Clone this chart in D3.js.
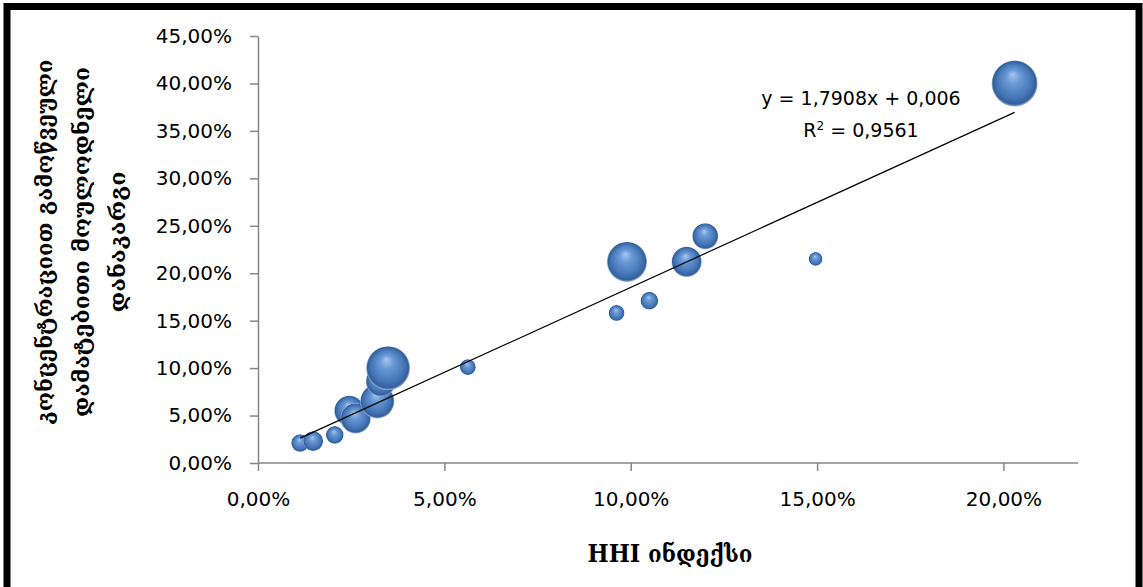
<!DOCTYPE html>
<html lang="ka">
<head>
<meta charset="utf-8">
<style>
  body { margin: 0; background: #fff; }
  svg { display: block; }
  .tick text { font-family: "DejaVu Sans", sans-serif; font-size: 20px; fill: #000; }
  .axis path, .axis line { stroke: #868686; stroke-width: 1.5; }
</style>
</head>
<body>
<script src="https://d3js.org/d3.v7.min.js"></script>
<script>
  var width = 1143, height = 587;

  // HHI index (share) and additional unexpected loss (share), bubble size
  var hhi  = [0.0113, 0.0148, 0.0206, 0.0245, 0.0262, 0.0320, 0.0330, 0.0349, 0.0563, 0.0962, 0.0990, 0.1050, 0.1150, 0.1200, 0.1496, 0.2030];
  var loss = [0.021, 0.023, 0.0295, 0.055, 0.047, 0.065, 0.086, 0.100, 0.101, 0.158, 0.212, 0.171, 0.212, 0.239, 0.215, 0.400];
  var size = [15, 19, 15, 43, 43, 55, 43, 91, 12, 12, 76, 15, 43, 32, 9, 100];

  var xTicks = [0, 0.05, 0.10, 0.15, 0.20];
  var yTicks = [0, 0.05, 0.10, 0.15, 0.20, 0.25, 0.30, 0.35, 0.40, 0.45];

  var slope = 1.7908, intercept = 0.006, r2 = "0,9561";
  var eqText = "y = 1,7908x + 0,006";
  var xTitle = "HHI ინდექსი";
  var yTitle = ["კონცენტრაციით გამოწვეული", "დამატებითი მოულოდნელი", "დანაკარგი"];

  var svg = d3.select('body').append('svg').attr('width', width).attr('height', height);

  // frame
  svg.append('rect').attr('x', 7).attr('y', 6.5).attr('width', 1132).attr('height', 600)
    .attr('fill', 'none').attr('stroke', '#000').attr('stroke-width', 7);

  var x = d3.scaleLinear().domain([0, 0.22]).range([258, 1078]);
  var y = d3.scaleLinear().domain([0, 0.45]).range([463, 36]);
  var r = d3.scaleSqrt().domain([0, 100]).range([0, 23]);

  var fmt = d3.formatLocale({ decimal: ",", thousands: " ", grouping: [3], currency: ["", ""] }).format(".2%");

  svg.append('g').attr('class', 'axis').attr('transform', 'translate(0,' + y(0) + ')')
    .call(d3.axisBottom(x).tickValues(xTicks).tickFormat(fmt).tickSize(8).tickSizeOuter(0).tickPadding(21))
    .call(function (g) { g.select('.domain').attr('d', 'M' + x.range()[0] + ',0H' + x.range()[1]); });

  svg.append('g').attr('class', 'axis').attr('transform', 'translate(' + x(0) + ',0)')
    .call(d3.axisLeft(y).tickValues(yTicks).tickFormat(fmt).tickSize(8).tickSizeOuter(0).tickPadding(18));

  d3.selectAll('.axis .domain').attr('stroke', '#868686');
  d3.selectAll('.axis').attr('font-family', null).attr('font-size', null);

  // sphere gradient
  var defs = svg.append('defs');
  var grad = defs.append('radialGradient').attr('id', 'ball')
    .attr('cx', '50%').attr('cy', '50%').attr('r', '50%').attr('fx', '46%').attr('fy', '30%');
  grad.append('stop').attr('offset', '0%').attr('stop-color', '#a8c8f0');
  grad.append('stop').attr('offset', '30%').attr('stop-color', '#6b9ad6');
  grad.append('stop').attr('offset', '75%').attr('stop-color', '#4475b6');
  grad.append('stop').attr('offset', '93%').attr('stop-color', '#345f99');
  grad.append('stop').attr('offset', '100%').attr('stop-color', '#9db6d6');

  var pts = d3.range(hhi.length).map(function (i) { return { x: hhi[i], y: loss[i], s: size[i] }; });

  svg.append('g').selectAll('circle')
    .data(pts)
    .join('circle')
    .attr('cx', function (d) { return x(d.x); })
    .attr('cy', function (d) { return y(d.y); })
    .attr('r', function (d) { return r(d.s); })
    .attr('fill', 'url(#ball)');

  // linear trendline
  var xMin = d3.min(hhi), xMax = d3.max(hhi);
  svg.append('line')
    .attr('x1', x(xMin)).attr('y1', y(slope * xMin + intercept))
    .attr('x2', x(xMax)).attr('y2', y(slope * xMax + intercept))
    .attr('stroke', '#000').attr('stroke-width', 1.2);

  var eq = svg.append('text').attr('font-family', 'DejaVu Sans, sans-serif').attr('font-size', 19)
    .attr('text-anchor', 'middle');
  eq.append('tspan').attr('x', 861).attr('y', 105).text(eqText);
  var l2 = eq.append('tspan').attr('x', 861).attr('y', 137).text('R');
  l2.append('tspan').attr('dy', -7).attr('font-size', 12).text('2');
  l2.append('tspan').attr('dy', 7).text(' = ' + r2);

  // axis titles
  svg.append('text').attr('x', 670).attr('y', 562)
    .attr('text-anchor', 'middle').attr('font-family', 'DejaVu Serif, serif')
    .attr('font-weight', 'bold').attr('font-size', 24)
    .attr('textLength', 165).attr('lengthAdjust', 'spacingAndGlyphs')
    .text(xTitle);

  var yt = svg.append('text').attr('transform', 'translate(0,242) rotate(-90)')
    .attr('text-anchor', 'middle').attr('font-family', 'DejaVu Serif, serif')
    .attr('font-weight', 'bold').attr('font-size', 22);
  var lens = [365, 350, 141];
  var xs = [52, 89, 125];
  yTitle.forEach(function (t, i) {
    yt.append('tspan').attr('x', 0).attr('y', xs[i])
      .attr('textLength', lens[i]).attr('lengthAdjust', 'spacingAndGlyphs').text(t);
  });
</script>
</body>
</html>
